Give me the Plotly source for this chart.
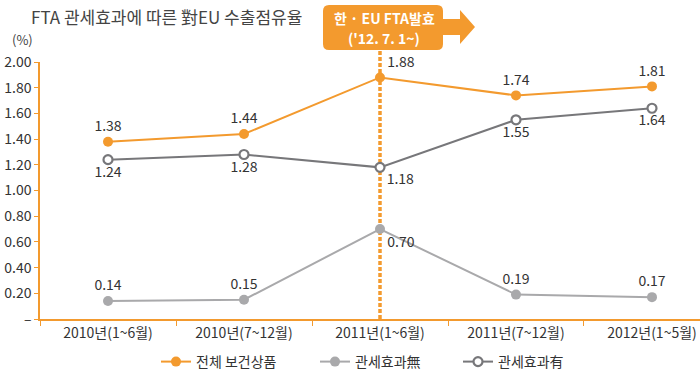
import plotly.graph_objects as go

categories = ["2010년(1~6월)", "2010년(7~12월)", "2011년(1~6월)", "2011년(7~12월)", "2012년(1~5월)"]
total = [1.38, 1.44, 1.88, 1.74, 1.81]
no_effect = [0.14, 0.15, 0.70, 0.19, 0.17]
with_effect = [1.24, 1.28, 1.18, 1.55, 1.64]
ytick_vals = [0, 0.2, 0.4, 0.6, 0.8, 1.0, 1.2, 1.4, 1.6, 1.8, 2.0]
ytick_text = ["–", "0.20", "0.40", "0.60", "0.80", "1.00", "1.20", "1.40", "1.60", "1.80", "2.00"]

ORANGE = "#F39A2E"
LGRAY = "#A9A9AB"
DGRAY = "#77777A"
FONT = "Noto Sans CJK KR"

W, H = 700, 377
L, R, T, B = 40, 0, 62, 58
PW, PH = W - L - R, H - T - B

def px(x):
    return (x - L) / PW

def py(y):
    return (H - B - y) / PH

fig = go.Figure()
fig.add_trace(go.Scatter(
    x=categories, y=total, name="전체 보건상품", mode="lines+markers+text",
    line=dict(color=ORANGE, width=2), marker=dict(color=ORANGE, size=10),
    text=[f"{v:.2f}" for v in total],
    textposition=["top center", "top center", "top right", "top center", "top center"],
    textfont=dict(size=14, color="#333333", family=FONT), cliponaxis=False, legend="legend"))
fig.add_trace(go.Scatter(
    x=categories, y=no_effect, name="관세효과無", mode="lines+markers+text",
    line=dict(color=LGRAY, width=2), marker=dict(color=LGRAY, size=10),
    text=[f"{v:.2f}" for v in no_effect],
    textposition=["top center", "top center", "bottom right", "top center", "top center"],
    textfont=dict(size=14, color="#333333", family=FONT), cliponaxis=False, legend="legend2"))
fig.add_trace(go.Scatter(
    x=categories, y=with_effect, name="관세효과有", mode="lines+markers+text",
    line=dict(color=DGRAY, width=2),
    marker=dict(color="white", size=9, line=dict(color=DGRAY, width=2.2)),
    text=[f"{v:.2f}" for v in with_effect],
    textposition=["bottom center", "bottom center", "bottom right", "bottom center", "bottom center"],
    textfont=dict(size=14, color="#333333", family=FONT), cliponaxis=False, legend="legend3"))

# dashed vertical line at FTA start
fig.add_shape(type="line", xref="x", yref="paper", x0=categories[2], x1=categories[2],
              y0=0, y1=py(50), line=dict(color=ORANGE, width=3.5, dash="4px,2px"), layer="below")

# rounded box
x0, x1, y0, y1, r = 323, 443, 5, 50, 6
path = (f"M {px(x0+r)} {py(y0)} L {px(x1-r)} {py(y0)} Q {px(x1)} {py(y0)} {px(x1)} {py(y0+r)} "
        f"L {px(x1)} {py(y1-r)} Q {px(x1)} {py(y1)} {px(x1-r)} {py(y1)} "
        f"L {px(x0+r)} {py(y1)} Q {px(x0)} {py(y1)} {px(x0)} {py(y1-r)} "
        f"L {px(x0)} {py(y0+r)} Q {px(x0)} {py(y0)} {px(x0+r)} {py(y0)} Z")
fig.add_shape(type="path", xref="paper", yref="paper", path=path,
              fillcolor=ORANGE, line=dict(width=0))
arrow = (f"M {px(442)} {py(19)} L {px(460)} {py(19)} L {px(460)} {py(10)} L {px(475)} {py(27)} "
         f"L {px(460)} {py(44)} L {px(460)} {py(35)} L {px(442)} {py(35)} Z")
fig.add_shape(type="path", xref="paper", yref="paper", path=arrow,
              fillcolor=ORANGE, line=dict(width=0))
fig.add_annotation(xref="paper", yref="paper", x=px(384), y=py(18), showarrow=False,
                   yanchor="middle", text="<b>한 · EU FTA발효</b>",
                   font=dict(size=14, color="white", family=FONT))
fig.add_annotation(xref="paper", yref="paper", x=px(384), y=py(38), showarrow=False,
                   yanchor="middle", text="<b>('12. 7. 1~)</b>",
                   font=dict(size=14, color="white", family=FONT))

# title and unit
fig.add_annotation(xref="paper", yref="paper", x=px(29), y=py(17), xanchor="left", yanchor="middle",
                   showarrow=False, text="FTA 관세효과에 따른 對EU 수출점유율",
                   font=dict(size=17, color="#444444", family=FONT))
fig.add_annotation(xref="paper", yref="paper", x=px(10), y=py(39), xanchor="left", yanchor="middle",
                   showarrow=False, text="(%)", font=dict(size=13, color="#444444", family=FONT))

leg_common = dict(orientation="h", yanchor="middle", xanchor="left", bgcolor="rgba(0,0,0,0)",
                  font=dict(size=14, color="#333333", family=FONT), itemwidth=30)
fig.update_layout(
    width=W, height=H, margin=dict(l=L, r=R, t=T, b=B, autoexpand=False),
    paper_bgcolor="white", plot_bgcolor="white",
    font=dict(family=FONT, color="#333333"),
    showlegend=True,
    legend=dict(x=px(156), y=py(362), **leg_common),
    legend2=dict(x=px(315), y=py(362), **leg_common),
    legend3=dict(x=px(458), y=py(362), **leg_common),
    xaxis=dict(range=[-0.5, 4.353], showline=True, linecolor=ORANGE, linewidth=1.5,
               ticks="outside", tickson="boundaries", ticklen=5, tickcolor=ORANGE,
               showgrid=False, zeroline=False, tickfont=dict(size=14, color="#333333"),
               fixedrange=True),
    yaxis=dict(range=[0, 2.0], tickvals=ytick_vals, ticktext=ytick_text, showline=True,
               linecolor=ORANGE, linewidth=1.5, ticks="outside", ticklen=4, tickcolor=ORANGE,
               showgrid=False, zeroline=False, tickfont=dict(size=14, color="#333333"),
               fixedrange=True),
)
fig.write_html("out.html", config={"displayModeBar": False},
               post_script="document.body.style.margin='0';document.body.style.overflow='hidden';")
